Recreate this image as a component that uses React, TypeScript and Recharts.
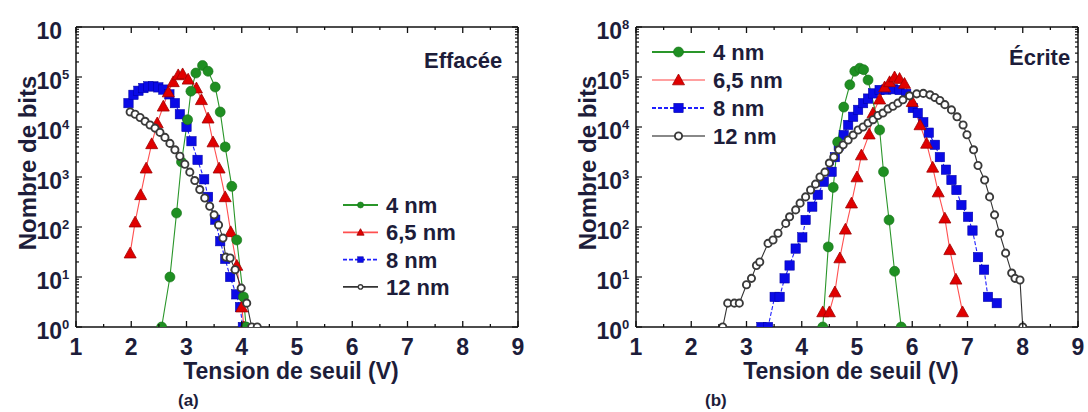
import React from "react";
import { LineChart, Line, XAxis, YAxis, Legend } from "recharts";

// ---- axes ----
const xMajor = [1, 2, 3, 4, 5, 6, 7, 8, 9];
const xMinor = [1.5, 2.5, 3.5, 4.5, 5.5, 6.5, 7.5, 8.5];
const yDecades = [1, 10, 100, 1000, 10000, 100000, 1000000];
const yExpA = ["0", "1", "2", "3", "4", "5", ""];
const yExpB = ["0", "1", "2", "3", "4", "5", "8"];
const seriesNames = ["4 nm", "6,5 nm", "8 nm", "12 nm"];

// ---- (a) Effacée : tension de seuil (V) / nombre de bits ----
const effV4 = [2.55, 2.7, 2.82, 2.91, 3.02, 3.08, 3.17, 3.29, 3.39, 3.52, 3.61, 3.7, 3.82, 3.91, 4.03, 4.08];
const effN4 = [1, 10, 190, 2000, 14000, 52000, 120000, 170000, 130000, 63000, 20000, 4000, 650, 55, 4, 1];
const effV65 = [1.98, 2.07, 2.17, 2.27, 2.37, 2.47, 2.58, 2.67, 2.76, 2.85, 2.93, 3.03, 3.18, 3.27, 3.39, 3.48, 3.59, 3.7, 3.8, 3.91, 4.0, 4.04];
const effN65 = [30, 125, 440, 1500, 4600, 12000, 26000, 50000, 80000, 110000, 115000, 90000, 60000, 35000, 15000, 5000, 1500, 400, 80, 17, 2.5, 1];
const effV8 = [1.95, 2.04, 2.13, 2.22, 2.31, 2.4, 2.49, 2.58, 2.69, 2.79, 2.88, 3.0, 3.09, 3.2, 3.32, 3.39, 3.52, 3.61, 3.7, 3.79, 3.9, 3.97, 4.02];
const effN8 = [30000, 44000, 53000, 60000, 65000, 65000, 62000, 56000, 45000, 30000, 18000, 10000, 5200, 2200, 900, 400, 140, 52, 23, 10, 4.5, 2.5, 1];
const effV12 = [1.98, 2.07, 2.16, 2.25, 2.34, 2.43, 2.52, 2.61, 2.7, 2.79, 2.88, 2.97, 3.06, 3.15, 3.24, 3.33, 3.42, 3.5, 3.58, 3.66, 3.71, 3.79, 3.88, 3.99, 4.09, 4.18, 4.28];
const effN12 = [20000, 18000, 15500, 13000, 11000, 9500, 7800, 6200, 4700, 3500, 2600, 1800, 1250, 850, 560, 380, 260, 175, 110, 60, 25, 24, 14, 6, 3, 1, 1];

// ---- (b) Écrite ----
const ecrV4 = [4.38, 4.48, 4.57, 4.65, 4.76, 4.87, 4.96, 5.05, 5.12, 5.2, 5.41, 5.48, 5.58, 5.68, 5.8];
const ecrN4 = [1, 40, 620, 5000, 25000, 70000, 130000, 150000, 140000, 87000, 8700, 1270, 138, 13, 1];
const ecrV65 = [4.38, 4.5, 4.6, 4.69, 4.79, 4.9, 5.0, 5.08, 5.22, 5.29, 5.41, 5.5, 5.59, 5.68, 5.77, 5.86, 6.0, 6.14, 6.26, 6.37, 6.47, 6.59, 6.68, 6.79, 6.91];
const ecrN65 = [2, 2, 5, 24, 90, 300, 1000, 2750, 7200, 19000, 36000, 63000, 80000, 100000, 93000, 74000, 32000, 11000, 4700, 1560, 500, 150, 35, 9, 2];
const ecrV8 = [3.27, 3.39, 3.51, 3.6, 3.69, 3.78, 3.89, 4.01, 4.07, 4.19, 4.29, 4.4, 4.54, 4.6, 4.67, 4.76, 4.84, 4.93, 5.02, 5.11, 5.2, 5.29, 5.41, 5.53, 5.65, 5.77, 5.89, 6.01, 6.1, 6.2, 6.3, 6.41, 6.5, 6.61, 6.71, 6.8, 6.89, 7.01, 7.09, 7.19, 7.3, 7.37, 7.53];
const ecrN8 = [1, 1, 4, 4, 9.4, 17, 37, 62, 138, 255, 440, 800, 1270, 2500, 4200, 6900, 11000, 16000, 22000, 30000, 37000, 47000, 55000, 56000, 57000, 55000, 46000, 24000, 19000, 12500, 7700, 4400, 2500, 1400, 870, 550, 275, 160, 85, 25, 14, 4, 3];
const ecrV12 = [2.57, 2.66, 2.78, 2.87, 3.0, 3.09, 3.18, 3.24, 3.39, 3.48, 3.57, 3.71, 3.78, 3.89, 3.97, 4.07, 4.16, 4.25, 4.33, 4.42, 4.5, 4.58, 4.67, 4.75, 4.84, 4.93, 5.02, 5.11, 5.2, 5.29, 5.38, 5.47, 5.56, 5.65, 5.74, 5.83, 5.95, 6.08, 6.2, 6.32, 6.41, 6.5, 6.59, 6.71, 6.81, 6.92, 6.99, 7.11, 7.19, 7.31, 7.4, 7.49, 7.58, 7.69, 7.8, 7.86, 7.95, 8.0];
const ecrN12 = [1, 3, 3, 3, 7, 9.4, 17, 20, 47, 55, 75, 118, 160, 220, 300, 400, 550, 720, 1000, 1250, 1900, 2500, 3500, 4400, 5500, 6900, 8700, 10000, 12000, 14000, 17000, 19000, 23000, 26000, 30000, 35000, 42000, 46000, 47000, 44000, 39000, 34000, 28000, 22000, 16000, 11000, 7000, 3500, 1700, 870, 400, 175, 75, 30, 12, 9.4, 8.7, 1];

const FONT = "'Liberation Sans', Arial, sans-serif";
const INK = "#1d1d3a";

type Shape = "circle" | "triangle" | "square" | "open";
const styles: Record<string, { shape: Shape; line: string; legendB: string; dash?: string }> = {
  "4 nm": { shape: "circle", line: "#2a962a", legendB: "#2a962a" },
  "6,5 nm": { shape: "triangle", line: "#ff5050", legendB: "#ffa0a0" },
  "8 nm": { shape: "square", line: "#2020ff", legendB: "#2020ff", dash: "4 2" },
  "12 nm": { shape: "open", line: "#333", legendB: "#888" },
};

const zip = (v: number[], n: number[]) => v.map((x, i) => ({ v: x, n: n[i] }));

const yMinor: number[] = [];
yDecades.slice(0, -1).forEach(d => [2, 3, 4, 5, 6, 7, 8, 9].forEach(k => yMinor.push(d * k)));

function Marker({ shape, x, y, s }: { shape: Shape; x: number; y: number; s: number }) {
  if (shape === "circle") return <circle cx={x} cy={y} r={5 * s} fill="#1f8f22" stroke="#147016" strokeWidth={0.6} />;
  if (shape === "triangle") {
    const h = 6 * s;
    return <polygon points={`${x},${y - h} ${x + h},${y + h * 0.8} ${x - h},${y + h * 0.8}`} fill="#e00000" stroke="#a00000" strokeWidth={0.8} />;
  }
  if (shape === "square") {
    const h = 4.7 * s;
    return <rect x={x - h} y={y - h} width={2 * h} height={2 * h} fill="#0a0ae6" stroke="#0000a0" strokeWidth={0.5} />;
  }
  return <circle cx={x} cy={y} r={3.6 * s} fill="#fff" stroke="#3a3a3a" strokeWidth={1.9 * Math.max(s, 0.7)} />;
}

const dotFor = (shape: Shape) => (p: any) => {
  const { cx, cy, index } = p;
  if (cx == null || cy == null) return <g key={index} />;
  return <Marker key={index} shape={shape} x={cx} y={cy} s={1} />;
};

const XTickBottom = (p: any) => {
  const { x, y, payload } = p;
  const major = xMajor.includes(payload.value);
  return (
    <g>
      <line x1={x} x2={x} y1={y} y2={y - (major ? 6 : 3)} stroke="#111" strokeWidth={1.3} />
      {major && (
        <text x={x} y={y + 28} textAnchor="middle" fontSize={23} fontWeight="bold" fontFamily={FONT} fill={INK}>
          {payload.value}
        </text>
      )}
    </g>
  );
};

const XTickTop = (p: any) => {
  const { x, y, payload } = p;
  const major = xMajor.includes(payload.value);
  return <line x1={x} x2={x} y1={y} y2={y + (major ? 6 : 3)} stroke="#111" strokeWidth={1.3} />;
};

const makeYTick = (sups: string[]) => (p: any) => {
  const { x, y, payload } = p;
  const i = yDecades.indexOf(payload.value);
  return (
    <g>
      <line x1={x} x2={x + (i >= 0 ? 6 : 3)} y1={y} y2={y} stroke="#111" strokeWidth={1.2} />
      {i >= 0 && (
        <g fontWeight="bold" fontFamily={FONT} fill={INK}>
          <text x={x - 14} y={y + 12} textAnchor="end" fontSize={23}>10</text>
          <text x={x - 14} y={y + 2} textAnchor="start" fontSize={13}>{sups[i]}</text>
        </g>
      )}
    </g>
  );
};

const YTickRight = (p: any) => {
  const { x, y, payload } = p;
  const major = yDecades.includes(payload.value);
  return <line x1={x} x2={x - (major ? 6 : 3)} y1={y} y2={y} stroke="#111" strokeWidth={1.2} />;
};

function LegendBox({ lineW, rowH, markerScale, panel }: { lineW: number; rowH: number; markerScale: number; panel: "a" | "b" }) {
  return (
    <svg width={lineW + 115} height={rowH * 4 + 6}>
      {seriesNames.map((name, i) => {
        const st = styles[name];
        const y = 12 + i * rowH;
        return (
          <g key={name}>
            <line x1={2} x2={2 + lineW} y1={y} y2={y} stroke={panel === "a" ? st.line : st.legendB} strokeWidth={1.8} strokeDasharray={st.dash} />
            <Marker shape={st.shape} x={2 + lineW / 2} y={y} s={markerScale} />
            <text x={lineW + 10} y={y + 8} fontSize={22} fontWeight="bold" fontFamily={FONT} fill={INK}>{name}</text>
          </g>
        );
      })}
    </svg>
  );
}

type PanelProps = {
  width: number;
  marginRight: number;
  sups: string[];
  series: { name: string; data: { v: number; n: number }[] }[];
  legend: { left: number; top: number; lineW: number; rowH: number; scale: number };
  panel: "a" | "b";
};

function Panel({ width, marginRight, sups, series, legend, panel }: PanelProps) {
  return (
    <LineChart width={width} height={412} margin={{ top: 26, right: marginRight, bottom: 25, left: 0 }}>
      <XAxis
        dataKey="v" type="number" domain={[1, 9]} ticks={[...xMajor, ...xMinor]} interval={0}
        allowDataOverflow height={60} tickSize={0} tickMargin={0} tick={XTickBottom}
        axisLine={{ stroke: "#111", strokeWidth: 1.5 }} tickLine={false}
        label={(p: any) => {
          const vb = p.viewBox;
          return (
            <text x={vb.x + vb.width / 2 - 6} y={vb.y + 52} textAnchor="middle" fontSize={23} fontWeight="bold" fontFamily={FONT} fill={INK}>
              Tension de seuil (V)
            </text>
          );
        }}
      />
      <XAxis
        xAxisId="top" orientation="top" dataKey="v" type="number" domain={[1, 9]} ticks={[...xMajor, ...xMinor]}
        interval={0} allowDataOverflow height={1} tickSize={0} tickMargin={0} tick={XTickTop}
        axisLine={{ stroke: "#111", strokeWidth: 1.5 }} tickLine={false}
      />
      <YAxis
        dataKey="n" type="number" scale="log" domain={[1, 1000000]} ticks={[...yDecades, ...yMinor]} interval={0}
        allowDataOverflow width={76} tickSize={0} tickMargin={0} tick={makeYTick(sups)}
        axisLine={{ stroke: "#111", strokeWidth: 1.5 }} tickLine={false}
        label={() => (
          <text transform="translate(36,163) rotate(-90)" textAnchor="middle" fontSize={24} fontWeight="bold" fontFamily={FONT} fill={INK}>
            Nombre de bits
          </text>
        )}
      />
      <YAxis
        yAxisId="right" orientation="right" type="number" scale="log" domain={[1, 1000000]}
        ticks={[...yDecades, ...yMinor]} interval={0} allowDataOverflow width={1} tickSize={0} tickMargin={0}
        tick={YTickRight} axisLine={{ stroke: "#111", strokeWidth: 1.5 }} tickLine={false}
      />
      {series.map(s => {
        const st = styles[s.name];
        return (
          <Line
            key={s.name} name={s.name} data={s.data} dataKey="n" type="linear"
            stroke={st.line} strokeWidth={1.1} strokeDasharray={st.dash}
            dot={dotFor(st.shape)} activeDot={false} isAnimationActive={false}
          />
        );
      })}
      <Legend
        layout="vertical" align="center" verticalAlign="middle"
        wrapperStyle={{ left: legend.left, top: legend.top, width: "auto", height: "auto" }}
        content={() => <LegendBox lineW={legend.lineW} rowH={legend.rowH} markerScale={legend.scale} panel={panel} />}
      />
    </LineChart>
  );
}

// drawing order: 8 nm, 6,5 nm, 4 nm, 12 nm
const effSeries = [
  { name: "8 nm", data: zip(effV8, effN8) },
  { name: "6,5 nm", data: zip(effV65, effN65) },
  { name: "4 nm", data: zip(effV4, effN4) },
  { name: "12 nm", data: zip(effV12, effN12) },
];
const ecrSeries = [
  { name: "8 nm", data: zip(ecrV8, ecrN8) },
  { name: "6,5 nm", data: zip(ecrV65, ecrN65) },
  { name: "4 nm", data: zip(ecrV4, ecrN4) },
  { name: "12 nm", data: zip(ecrV12, ecrN12) },
];

const textStyle: React.CSSProperties = {
  position: "absolute", fontFamily: FONT, fontWeight: "bold", color: INK, lineHeight: 1, whiteSpace: "nowrap",
};

export default function App() {
  return (
    <div style={{ position: "absolute", left: 0, top: 0, width: 1088, height: 412, background: "#fff", overflow: "hidden" }}>
      <div style={{ position: "absolute", left: 0, top: 0 }}>
        <Panel
          width={540} marginRight={21} sups={yExpA} series={effSeries} panel="a"
          legend={{ left: 341, top: 193, lineW: 35, rowH: 27.3, scale: 0.6 }}
        />
      </div>
      <div style={{ position: "absolute", left: 560, top: 0 }}>
        <Panel
          width={528} marginRight={9} sups={yExpB} series={ecrSeries} panel="b"
          legend={{ left: 90, top: 40, lineW: 53, rowH: 28, scale: 1 }}
        />
      </div>
      <div style={{ ...textStyle, left: 424, top: 50, fontSize: 22 }}>Effacée</div>
      <div style={{ ...textStyle, left: 1009, top: 47, fontSize: 22 }}>Écrite</div>
      <div style={{ ...textStyle, left: 178, top: 392, fontSize: 17 }}>(a)</div>
      <div style={{ ...textStyle, left: 705, top: 392, fontSize: 17 }}>(b)</div>
    </div>
  );
}
